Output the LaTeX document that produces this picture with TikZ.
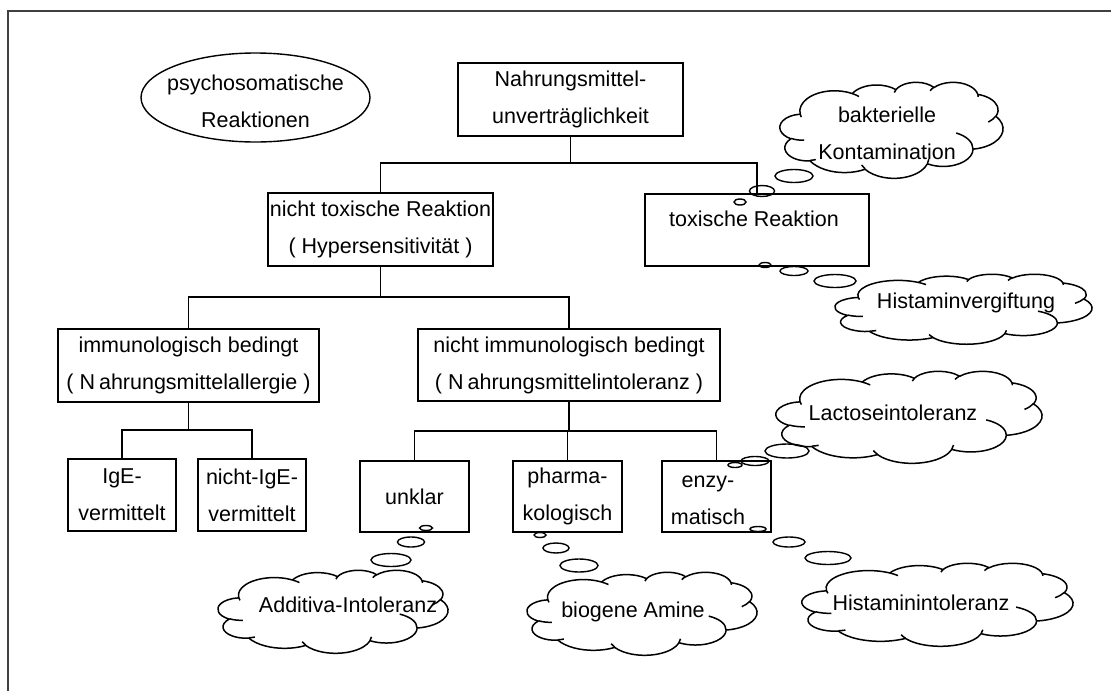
\documentclass[tikz,border=0pt]{standalone}
\usepackage{fontspec}
\setmainfont{Liberation Sans}
\usetikzlibrary{shapes.geometric}
\newcommand\diafont{\fontsize{21.5}{37}\selectfont}
\tikzset{
  box/.style={draw, line width=1.6pt, inner sep=0pt, align=center, font=\diafont},
  txt/.style={inner sep=0pt, align=center, font=\diafont},
  conn/.style={line width=1.6pt},
  frame/.style={line width=2pt, draw=black!75},
  cloudline/.style={line width=1.5pt, line join=round},
  bub/.style={line width=1.4pt}
}
% Word-style cloud in a 432 x 432 box, scaled to x0,y0,w,h
\newcommand\wcloud[4]{%
\begin{scope}[shift={(#1,#2)}, xscale=#3/432, yscale=#4/432]
\draw[cloudline] (39,143.7)
  arc[start angle=-187.75, end angle=-59.64, x radius=67.53, y radius=91.90]
  arc[start angle=-152.02, end angle=-45.45, x radius=53.33, y radius=72.67]
  arc[start angle=-153.49, end angle=-37.32, x radius=43.65, y radius=59.45]
  arc[start angle=-139.71, end angle=-10.22, x radius=48.57, y radius=65.95]
  arc[start angle=-74.77, end angle=23.21, x radius=53.33, y radius=72.73]
  arc[start angle=-37.52, end angle=81.86, x radius=67.75, y radius=92.20]
  arc[start angle=0.46, end angle=121.99, x radius=57.85, y radius=78.67]
  arc[start angle=16.85, end angle=146.23, x radius=67.52, y radius=92.15]
  arc[start angle=58.98, end angle=150.19, x radius=77.20, y radius=105.43]
  arc[start angle=-276.69, end angle=-136.88, x radius=43.60, y radius=59.18]
  arc[start angle=120.35, end angle=264.11, x radius=43.45, y radius=59.45]
  -- cycle;
\draw[cloudline] (46.93,261.77) arc[start angle=85.54, end angle=120.35, x radius=43.45, y radius=59.45];
\draw[cloudline] (69.28,348.99) arc[start angle=68.23, end angle=83.31, x radius=43.60, y radius=59.18];
\draw[cloudline] (164.78,390.90) arc[start angle=146.23, end angle=158.47, x radius=67.52, y radius=92.15];
\draw[cloudline] (288.27,347.51) arc[start angle=4.74, end angle=16.85, x radius=67.52, y radius=92.15];
\draw[cloudline] (341.29,229.54) arc[start angle=-64.03, end angle=0.46, x radius=57.85, y radius=78.67];
\draw[cloudline] (417.98,153.54) arc[start angle=23.21, end angle=49.65, x radius=53.33, y radius=72.73];
\draw[cloudline] (383.24,54.26) arc[start angle=-10.22, end angle=0.82, x radius=48.57, y radius=65.95];
\draw[cloudline] (290.78,39.52) arc[start angle=-156.29, end angle=-139.71, x radius=48.57, y radius=65.95];
\draw[cloudline] (221.41,47.20) arc[start angle=-167.72, end angle=-153.49, x radius=43.65, y radius=59.45];
\draw[cloudline] (140.00,51.92) arc[start angle=-59.64, end angle=-45.75, x radius=67.53, y radius=91.90];
\draw[cloudline] (41.27,157.89) arc[start angle=163.19, end angle=172.25, x radius=67.53, y radius=91.90];
\end{scope}}
\begin{document}
\begin{tikzpicture}[x=1pt,y=-1pt]
\useasboundingbox (0,0) rectangle (1111,691);
% frame
\draw[frame] (1111,11) -- (8,11) -- (8,691);
% ellipse
\node[ellipse, draw, line width=1.4pt, minimum width=229, minimum height=89, inner sep=0pt] (psy) at (255.5,97.5) {};
\node[txt] (psyt) at (255.5,101) {psychosomatische\\Reaktionen};
% boxes
\node[box, minimum width=225, minimum height=73] (nahr) at (570.5,99.5) {Nahrungsmittel-\\unverträglichkeit};
\node[box, minimum width=225, minimum height=73] (ntox) at (380.5,229.5) {nicht toxische Reaktion\\( Hypersensitivität )};
\node[box, minimum width=224, minimum height=72] (tox) at (757,230) {};
\node[txt] (toxt) at (754,219) {toxische Reaktion};
\node[box, minimum width=261, minimum height=73] (immun) at (188.5,365.5) {immunologisch bedingt\\( N\kern4pt ahrungsmittelallergie )};
\node[box, minimum width=302, minimum height=72] (nimmun) at (569,365) {nicht immunologisch bedingt\\( N\kern4pt ahrungsmittelintoleranz )};
\node[box, minimum width=108, minimum height=72] (ige) at (122,495) {IgE-\\vermittelt};
\node[box, minimum width=108, minimum height=72] (nige) at (252,495) {nicht-IgE-\\vermittelt};
\node[box, minimum width=109, minimum height=71] (unkl) at (414.5,496.5) {unklar};
\node[box, minimum width=109, minimum height=71] (pharm) at (567.5,496.5) {pharma-\\kologisch};
\node[box, minimum width=109, minimum height=71] (enzy) at (716.5,496.5) {};
\node[txt] (enzyt) at (708,500) {enzy-\\matisch};
% connectors
\draw[conn] (nahr.south) -- (nahr.south |- 0,163);
\draw[conn] (ntox.north) -- (ntox.north |- 0,163) -- (tox.north |- 0,163) -- (tox.north);
\draw[conn] (ntox.south) -- (ntox.south |- 0,297);
\draw[conn] (immun.north) -- (immun.north |- 0,297) -- (nimmun.north |- 0,297) -- (nimmun.north);
\draw[conn] (immun.south) -- (immun.south |- 0,430);
\draw[conn] (ige.north) -- (ige.north |- 0,430) -- (nige.north |- 0,430) -- (nige.north);
\draw[conn] (nimmun.south) -- (nimmun.south |- 0,431);
\draw[conn] (unkl.north) -- (unkl.north |- 0,431) -- (enzy.north |- 0,431) -- (enzy.north);
\draw[conn] (pharm.north) -- (pharm.north |- 0,431);
% clouds
\wcloud{780}{82}{223}{96}
\node[txt] (cbakt) at (887,133) {bakterielle\\Kontamination};
\wcloud{835}{274}{257}{70}
\node[txt] (chvt) at (966,303) {Histaminvergiftung};
\wcloud{776}{371}{266}{92}
\node[txt] (clact) at (893,413) {Lactoseintoleranz};
\wcloud{802}{563}{271}{83}
\node[txt] (chit) at (921,603) {Histaminintoleranz};
\wcloud{218}{570}{230}{83}
\node[txt] (caddt) at (348,605) {Additiva-Intoleranz};
\wcloud{527}{572}{230}{83}
\node[txt] (cbiot) at (633,612) {biogene Amine};
% bubbles: bakterielle
\draw[bub] (794,176) ellipse [x radius=19, y radius=6.5];
\draw[bub] (762,191) ellipse [x radius=12.5, y radius=5.5];
\draw[bub] (740,202) ellipse [x radius=6, y radius=3];
% bubbles: Histaminvergiftung
\draw[bub] (765,265) ellipse [x radius=6, y radius=2.5];
\draw[bub] (794,271) ellipse [x radius=14, y radius=4.5];
\draw[bub] (835,281) ellipse [x radius=21, y radius=6.5];
% bubbles: Additiva
\draw[bub] (426,528) ellipse [x radius=6.5, y radius=2.5];
\draw[bub] (411,542) ellipse [x radius=13.5, y radius=5];
\draw[bub] (391,560) ellipse [x radius=20, y radius=6.5];
% bubbles: biogene
\draw[bub] (540,535) ellipse [x radius=6, y radius=2.5];
\draw[bub] (556,548) ellipse [x radius=13, y radius=5];
\draw[bub] (579,565.5) ellipse [x radius=19, y radius=6.5];
% bubbles: Lactose
\draw[bub] (735,465) ellipse [x radius=7, y radius=2.5];
\draw[bub] (755,461) ellipse [x radius=14, y radius=4.5];
\draw[bub] (787,451) ellipse [x radius=22, y radius=7];
% bubbles: Histaminintoleranz
\draw[bub] (758,529) ellipse [x radius=8, y radius=2.5];
\draw[bub] (789,542) ellipse [x radius=16, y radius=5];
\draw[bub] (828,558) ellipse [x radius=23, y radius=6.5];
\end{tikzpicture}
\end{document}
